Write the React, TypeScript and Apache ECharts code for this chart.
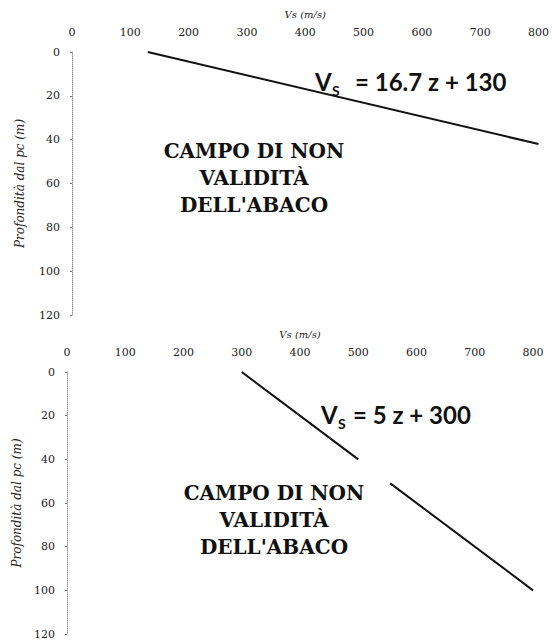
import React, { useEffect, useRef } from "react";
import * as echarts from "echarts";

// ---- data ----
const xMin = 0;
const xMax = 800;
const xInterval = 100;
const yMin = 0;
const yMax = 120;
const yInterval = 20;

const xAxisName = "Vs (m/s)";
const yAxisName = "Profondità dal pc (m)";

// Upper panel: Vs = 16.7 z + 130
const topLine: [number, number][] = [
  [130, 0],
  [800, 42],
];
// Lower panel: Vs = 5 z + 300 (line is interrupted in the picture)
const bottomLine: (number[] | string)[] = [
  [300, 0],
  [500, 40],
  "-",
  [555, 51],
  [800, 100],
];

const topEquation = "= 16.7 z + 130";
const bottomEquation = "= 5 z + 300";
const regionText = "CAMPO DI NON\nVALIDITÀ\nDELL'ABACO";

const serif = "DejaVu Serif";
const sans = "Lato";

function eqGroup(eq: string, x: number, yCenter: number, restOffset: number) {
  const main = { fontFamily: sans, fontWeight: "bold", fontSize: 24, fill: "#111", verticalAlign: "middle", align: "left" };
  return {
    type: "group",
    x,
    y: yCenter,
    children: [
      { type: "text", x: 0, y: 0, style: { ...main, text: "V" } },
      { type: "text", x: 17, y: 9, style: { ...main, fontSize: 14, text: "S" } },
      { type: "text", x: restOffset, y: 0, style: { ...main, text: eq } },
    ],
  };
}

function regionLabel(x: number, y: number) {
  return {
    type: "text",
    x,
    y,
    style: {
      text: regionText,
      fontFamily: serif,
      fontWeight: "bold",
      fontSize: 20,
      lineHeight: 27,
      align: "center",
      verticalAlign: "middle",
      fill: "#111",
    },
  };
}

function makeX(gridIndex: number) {
  return {
    gridIndex,
    type: "value",
    position: "top",
    min: xMin,
    max: xMax,
    interval: xInterval,
    name: xAxisName,
    nameLocation: "middle",
    nameGap: 33,
    nameTextStyle: { fontFamily: serif, fontStyle: "italic", fontSize: 10, color: "#222" },
    axisLine: { show: false },
    axisTick: { show: false },
    splitLine: { show: false },
    axisLabel: { margin: 14, fontFamily: serif, fontSize: 11, color: "#222" },
  };
}

function makeY(gridIndex: number, nameGap: number) {
  return {
    gridIndex,
    type: "value",
    inverse: true,
    min: yMin,
    max: yMax,
    interval: yInterval,
    name: yAxisName,
    nameLocation: "middle",
    nameRotate: 90,
    nameGap,
    nameTextStyle: { fontFamily: serif, fontStyle: "italic", fontSize: 12, color: "#222" },
    axisLine: { show: true, lineStyle: { type: "dotted", color: "#999", width: 1 } },
    axisTick: { show: true, length: 2, lineStyle: { color: "#777" } },
    splitLine: { show: false },
    axisLabel: { margin: 12, fontFamily: serif, fontSize: 11, color: "#222" },
  };
}

export default function App() {
  const ref = useRef<HTMLDivElement>(null);
  useEffect(() => {
    if (!ref.current) return;
    const chart = echarts.init(ref.current, undefined, { renderer: "svg" });
    chart.setOption({
      animation: false,
      backgroundColor: "#fff",
      grid: [
        { left: 72, right: 13, top: 52, height: 263 },
        { left: 67, right: 19, top: 372, height: 262 },
      ],
      xAxis: [makeX(0), makeX(1)],
      yAxis: [makeY(0, 46), makeY(1, 42)],
      series: [
        {
          type: "line",
          xAxisIndex: 0,
          yAxisIndex: 0,
          data: topLine,
          symbol: "none",
          lineStyle: { color: "#111", width: 2 },
        },
        {
          type: "line",
          xAxisIndex: 1,
          yAxisIndex: 1,
          data: bottomLine,
          connectNulls: false,
          symbol: "none",
          lineStyle: { color: "#111", width: 2 },
        },
      ],
      graphic: [
        eqGroup(topEquation, 315, 81, 40),
        eqGroup(bottomEquation, 321, 414, 32),
        regionLabel(254, 178),
        regionLabel(274, 520),
      ],
    });
    return () => chart.dispose();
  }, []);
  return (
    <div
      ref={ref}
      style={{ position: "absolute", left: 0, top: 0, width: 552, height: 640, background: "#fff" }}
    />
  );
}
